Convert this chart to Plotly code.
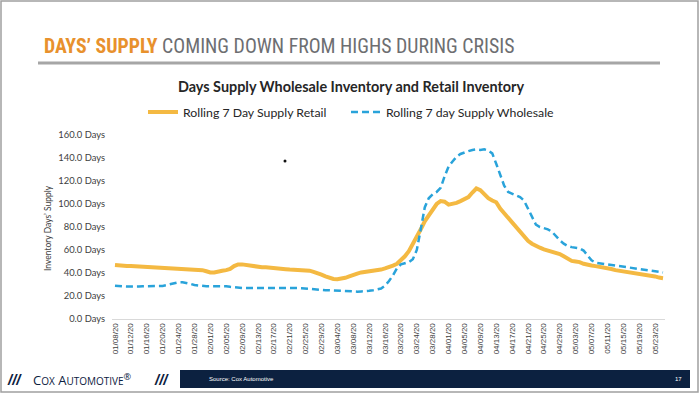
import pandas as pd
import plotly.graph_objects as go

# ---------------- data ----------------
dates = [d.strftime("%m/%d/%y") for d in pd.date_range("2020-01-08", "2020-05-25", freq="D")]

retail = [
    47.0, 46.5, 46.3, 46.0, 46.0, 45.8, 45.5, 45.5, 45.3, 45.0,
    45.0, 44.8, 44.5, 44.3, 44.5, 44.0, 43.8, 44.0, 43.5, 43.3,
    43.5, 43.0, 42.5, 41.5, 40.5, 40.5, 41.5, 42.0, 42.5, 43.5,
    46.0, 47.5, 47.5, 47.0, 46.0, 45.5, 45.5, 45.0, 45.0, 44.5,
    44.5, 44.0, 43.5, 43.3, 43.0, 42.8, 42.5, 42.5, 42.8, 42.0,
    41.0, 40.0, 38.5, 37.0, 35.5, 34.8, 34.5, 35.0, 35.8, 37.0,
    38.5, 39.5, 40.5, 41.0, 41.0, 41.3, 42.0, 43.0, 44.0, 45.0,
    46.5, 48.0, 51.0, 54.5, 59.0, 65.0, 71.5, 78.0, 85.0, 90.0,
    95.5, 100.0, 102.5, 102.0, 99.5, 100.0, 101.0, 102.5, 104.0, 106.0,
    110.0, 113.5, 112.0, 108.0, 105.0, 103.0, 101.5, 96.0, 92.0, 88.0,
    83.0, 79.0, 75.0, 71.0, 68.0, 65.5, 63.5, 62.0, 60.5, 59.5,
    58.5, 58.0, 56.5, 54.5, 52.0, 50.5, 50.0, 49.5, 48.0, 47.0,
    46.5, 46.0, 45.5, 44.5, 44.0, 43.5, 42.5, 42.0, 41.5, 41.0,
    40.0, 39.5, 39.0, 38.5, 38.0, 37.5, 37.0, 36.0, 35.5,
]

wholesale = [
    29.0, 28.5, 28.3, 28.2, 28.0, 28.0, 28.2, 28.5, 28.5, 28.5,
    28.3, 28.5, 28.8, 29.5, 30.5, 31.5, 32.0, 32.0, 31.5, 30.5,
    29.5, 29.0, 28.8, 28.5, 28.5, 28.5, 28.8, 29.0, 28.5, 28.0,
    27.5, 27.2, 27.0, 27.0, 27.0, 27.2, 27.2, 27.5, 27.5, 27.3,
    27.2, 27.0, 27.0, 27.0, 27.2, 27.0, 27.0, 26.8, 26.5, 26.0,
    25.5, 25.3, 25.0, 25.0, 25.0, 24.8, 24.5, 24.0, 23.8, 23.8,
    23.8, 23.8, 24.0, 24.0, 24.5, 25.0, 25.5, 26.5, 29.0, 33.0,
    38.0, 44.0, 47.5, 48.5, 49.5, 52.0, 60.0, 78.0, 97.0, 105.0,
    108.5, 110.5, 114.0, 124.0, 132.5, 137.0, 141.0, 143.5, 145.0, 146.0,
    147.0, 147.5, 147.0, 147.5, 146.5, 144.0, 135.0, 125.0, 116.0, 110.5,
    109.0, 107.5, 106.0, 103.0, 96.0, 88.0, 82.0, 80.0, 79.0, 78.0,
    76.0, 72.0, 68.5, 65.5, 63.5, 62.5, 62.0, 61.5, 59.5, 55.0,
    51.0, 49.0, 48.5, 48.0, 47.5, 47.0, 46.5, 46.0, 45.5, 45.0,
    44.5, 44.0, 43.5, 43.0, 42.5, 42.0, 41.5, 41.0, 40.5,
]

tick_labels = dates[::4]
y_ticks = [0, 20, 40, 60, 80, 100, 120, 140, 160]

# ---------------- layout helpers ----------------
W, H = 700, 394
ML, MR, MT, MB = 112, 35, 135, 75
PW, PH = W - ML - MR, H - MT - MB


def X(px):
    return (px - ML) / PW


def Y(py):
    return (H - MB - py) / PH


FONT = "Lato, 'Open Sans', sans-serif"
NAVY = "#0c2140"

fig = go.Figure()
fig.add_trace(go.Scatter(
    x=dates, y=retail, mode="lines", name="Rolling 7 Day Supply Retail",
    line=dict(color="#F4B942", width=4), legend="legend",
))
fig.add_trace(go.Scatter(
    x=dates, y=wholesale, mode="lines", name="Rolling 7 day Supply Wholesale",
    line=dict(color="#29A3DA", width=2.5, dash="7px,4px"), legend="legend2",
))

leg_common = dict(
    orientation="h", yanchor="middle", xanchor="left",
    font=dict(size=12.3, color="#262626", family=FONT),
    bgcolor="rgba(0,0,0,0)", itemclick=False, itemdoubleclick=False,
)

fig.update_layout(
    width=W, height=H,
    margin=dict(l=ML, r=MR, t=MT, b=MB),
    paper_bgcolor="white", plot_bgcolor="white",
    font=dict(family=FONT, color="#404040"),
    showlegend=True,
    legend=dict(x=X(143), y=Y(112), **leg_common),
    legend2=dict(x=X(346), y=Y(112), **leg_common),
    xaxis=dict(
        type="category", range=[-0.75, len(dates) - 0.5],
        tickmode="array", tickvals=tick_labels, ticktext=tick_labels,
        tickangle=-90, tickfont=dict(size=8, color="#404040", family="Liberation Sans, Arial, sans-serif"),
        showgrid=False, showline=True, linecolor="#D9D9D9", linewidth=1,
        ticks="", zeroline=False,
    ),
    yaxis=dict(
        range=[0, 160], tickmode="array", tickvals=y_ticks,
        ticktext=[f"{v:.1f} Days" for v in y_ticks],
        tickfont=dict(size=9.4, color="#404040", family=FONT),
        showgrid=False, showline=False, zeroline=False, ticks="",
        ticklabelstandoff=6,
    ),
)

shapes = [
    # slide border
    dict(type="rect", xref="paper", yref="paper", x0=X(1), x1=X(698), y0=Y(392), y1=Y(1),
         line=dict(color="#A0A0A0", width=1.5), fillcolor="rgba(0,0,0,0)", layer="below"),
    # title underline
    dict(type="line", xref="paper", yref="paper", x0=X(38), x1=X(660), y0=Y(63), y1=Y(63),
         line=dict(color="#A6A6A6", width=3)),
    # footer band
    dict(type="rect", xref="paper", yref="paper", x0=X(180), x1=X(690), y0=Y(388), y1=Y(370),
         line=dict(width=0), fillcolor=NAVY),
    # stray dot
    dict(type="circle", xref="paper", yref="paper", x0=X(283.5), x1=X(286.5), y0=Y(162.5), y1=Y(159.5),
         line=dict(width=0), fillcolor="#111111"),
]
fig.update_layout(shapes=shapes)

annotations = [
    dict(xref="paper", yref="paper", x=X(42), y=Y(46), xanchor="left", yanchor="middle", showarrow=False,
         text="<b><span style='color:#E8912D'>DAYS’ SUPPLY</span></b> COMING DOWN FROM HIGHS DURING CRISIS",
         font=dict(family="'Liberation Sans Narrow', 'Arial Narrow', 'Roboto Condensed', sans-serif",
                   size=19.8, color="#6D6E71")),
    dict(xref="paper", yref="paper", x=X(351), y=Y(86), xanchor="center", yanchor="middle", showarrow=False,
         text="<b>Days Supply Wholesale Inventory and Retail Inventory</b>",
         font=dict(family=FONT, size=14.4, color="#262626")),
    dict(xref="paper", yref="paper", x=X(48), y=Y(228), xanchor="center", yanchor="middle", showarrow=False,
         text="Inventory Days’ Supply", textangle=-90,
         font=dict(family=FONT, size=8.5, color="#404040")),
    # footer logo
    dict(xref="paper", yref="paper", x=X(5), y=Y(379), xanchor="left", yanchor="middle", showarrow=False,
         text="<b><i>///</i></b>", font=dict(family="Liberation Sans, Arial, sans-serif", size=15, color=NAVY)),
    dict(xref="paper", yref="paper", x=X(31), y=Y(379), xanchor="left", yanchor="middle", showarrow=False,
         text="C<span style='font-size:10px'>OX</span> A<span style='font-size:10px'>UTOMOTIVE</span><sup>®</sup>",
         font=dict(family="'Open Sans', 'DejaVu Sans', sans-serif", size=13, color=NAVY)),
    dict(xref="paper", yref="paper", x=X(152), y=Y(379), xanchor="left", yanchor="middle", showarrow=False,
         text="<b><i>///</i></b>", font=dict(family="Liberation Sans, Arial, sans-serif", size=15, color=NAVY)),
    dict(xref="paper", yref="paper", x=X(207), y=Y(379), xanchor="left", yanchor="middle", showarrow=False,
         text="Source: Cox Automotive", font=dict(family="Liberation Sans, Arial, sans-serif", size=6, color="white")),
    dict(xref="paper", yref="paper", x=X(678), y=Y(379), xanchor="center", yanchor="middle", showarrow=False,
         text="17", font=dict(family="Liberation Sans, Arial, sans-serif", size=6, color="white")),
]
fig.update_layout(annotations=annotations)

fig.write_html(
    "out.html",
    config={"displayModeBar": False},
    post_script="document.body.style.margin='0';document.body.style.overflow='hidden';",
)
